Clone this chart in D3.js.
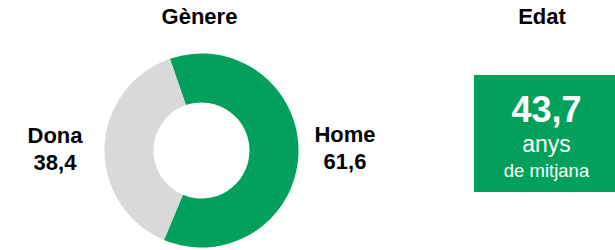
<!DOCTYPE html>
<html>
<head>
<meta charset="utf-8">
<script src="https://cdn.jsdelivr.net/npm/d3@7"></script>
<style>
  body { margin: 0; background: #fff; }
  svg { display: block; font-family: "Liberation Sans", Arial, sans-serif; }
</style>
</head>
<body>
<div id="chart"></div>
<script>
const categories = ['Home', 'Dona'];
const shares = [61.6, 38.4];
const sliceColors = ['#02A15B', '#D9D9D9'];
const titles = ['Gènere', 'Edat'];
const avgAge = 43.7;
const ageLines = ['anys', 'de mitjana'];

const fmt = v => d3.format('.1f')(v).replace('.', ',');

const width = 615, height = 250;
const svg = d3.select('#chart').append('svg')
  .attr('width', width)
  .attr('height', height);

// donut
const cx = 201.5, cy = 150.5;
const outerR = 97, innerR = 48;
const offset = -19 * Math.PI / 180;

const pie = d3.pie()
  .sort(null)
  .startAngle(offset)
  .endAngle(offset + 2 * Math.PI);
const arc = d3.arc().innerRadius(innerR).outerRadius(outerR);

const donut = svg.append('g').attr('transform', `translate(${cx},${cy})`);
donut.selectAll('path')
  .data(pie(shares))
  .join('path')
  .attr('d', arc)
  .attr('fill', (d, i) => sliceColors[i]);

svg.append('text')
  .attr('x', cx - 2)
  .attr('y', 24)
  .attr('text-anchor', 'middle')
  .attr('font-size', 22)
  .attr('font-weight', 'bold')
  .text(titles[0]);

// labels either side of the ring
const labelPos = [
  { x: 345, y: 142 },
  { x: 55, y: 143 }
];
const labels = svg.append('g')
  .attr('font-size', 22)
  .attr('font-weight', 'bold')
  .attr('text-anchor', 'middle');
categories.forEach((c, i) => {
  const t = labels.append('text')
    .attr('x', labelPos[i].x)
    .attr('y', labelPos[i].y);
  t.append('tspan').text(c);
  t.append('tspan').attr('x', labelPos[i].x).attr('dy', 27).text(fmt(shares[i]));
});

// age box
const box = { x: 474, y: 75, w: 141, h: 117 };
const bx = box.x + box.w / 2 + 2;
svg.append('text')
  .attr('x', 542)
  .attr('y', 24)
  .attr('text-anchor', 'middle')
  .attr('font-size', 22)
  .attr('font-weight', 'bold')
  .text(titles[1]);

svg.append('rect')
  .attr('x', box.x)
  .attr('y', box.y)
  .attr('width', box.w)
  .attr('height', box.h)
  .attr('fill', sliceColors[0]);

const boxText = svg.append('g')
  .attr('fill', '#fff')
  .attr('text-anchor', 'middle');
boxText.append('text')
  .attr('x', bx).attr('y', 122)
  .attr('font-size', 36)
  .attr('font-weight', 'bold')
  .text(fmt(avgAge));
boxText.append('text')
  .attr('x', bx).attr('y', 152)
  .attr('font-size', 23)
  .text(ageLines[0]);
boxText.append('text')
  .attr('x', bx).attr('y', 177)
  .attr('font-size', 18.5)
  .text(ageLines[1]);
</script>
</body>
</html>
